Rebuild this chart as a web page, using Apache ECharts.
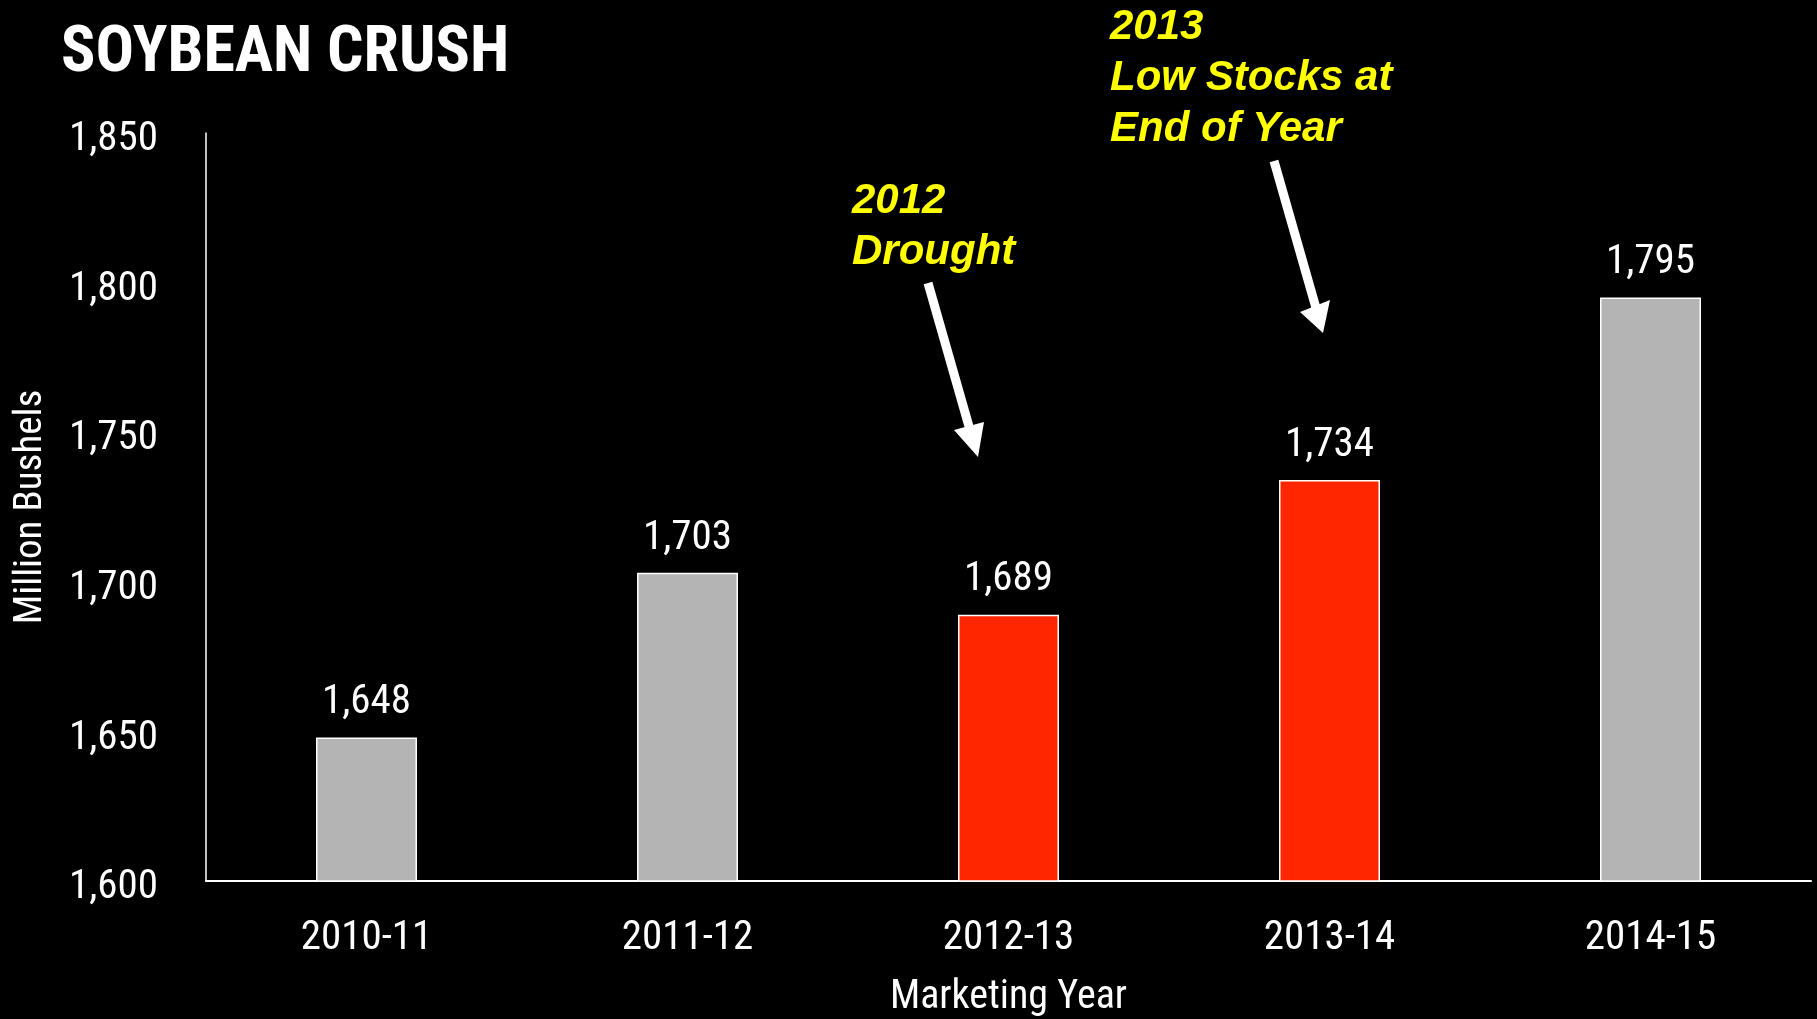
<!DOCTYPE html>
<html>
<head>
<meta charset="utf-8">
<script src="https://cdn.jsdelivr.net/npm/echarts@6/dist/echarts.min.js"></script>
<style>
html, body { margin: 0; padding: 0; background: #000; }
</style>
</head>
<body>
<div id="main" style="width: 1817px;height:1019px;"></div>

<script type="text/javascript">
// marketing years and crush volumes (million bushels)
var years = ['2010-11', '2011-12', '2012-13', '2013-14', '2014-15'];
var crush = [1648, 1703, 1689, 1734, 1795];
// years hit by the drought / low stocks
var flagged = [false, false, true, true, false];
var yTicks = [1600, 1650, 1700, 1750, 1800, 1850];

var narrow = "'Roboto Condensed', 'DejaVu Sans Condensed', sans-serif";
var bold = "'Liberation Sans', Arial, sans-serif";

function fmt(v) {
    return String(v).replace(/\B(?=(\d{3})+(?!\d))/g, ',');
}

var barData = [];
for (var i = 0; i < crush.length; i++) {
    barData.push({
        value: crush[i],
        itemStyle: { color: flagged[i] ? '#ff2600' : '#b4b4b4' }
    });
}

option = {
    backgroundColor: '#000',
    animation: false,
    title: {
        text: 'SOYBEAN CRUSH',
        left: 56,
        top: 18,
        textStyle: {
            color: '#fff',
            fontFamily: narrow,
            fontWeight: 'bold',
            fontSize: 64
        }
    },
    grid: {
        left: 206,
        right: 6,
        top: 133,
        bottom: 138,
        containLabel: false,
        outerBoundsMode: 'none'
    },
    xAxis: {
        type: 'category',
        data: years,
        name: 'Marketing Year',
        nameLocation: 'middle',
        nameGap: 97,
        nameTextStyle: { color: '#fff', fontFamily: narrow, fontSize: 40 },
        axisLine: { lineStyle: { color: '#fff', width: 2 } },
        axisTick: { show: false },
        axisLabel: { color: '#fff', fontFamily: narrow, fontSize: 41, margin: 37 }
    },
    yAxis: {
        type: 'value',
        min: yTicks[0],
        max: yTicks[yTicks.length - 1],
        interval: 50,
        name: 'Million Bushels',
        nameLocation: 'middle',
        nameGap: 155,
        nameTextStyle: { color: '#fff', fontFamily: narrow, fontSize: 39 },
        axisLine: { show: true, lineStyle: { color: '#fff', width: 1.5 } },
        axisTick: { show: false },
        splitLine: { show: false },
        axisLabel: {
            color: '#fff',
            fontFamily: narrow,
            fontSize: 41,
            margin: 48,
            verticalAlign: 'top',
            lineHeight: 14,
            formatter: function (v) { return fmt(v); }
        }
    },
    series: [{
        type: 'bar',
        data: barData,
        barWidth: 101,
        itemStyle: { borderColor: '#fff', borderWidth: 1.5 },
        label: {
            show: true,
            position: 'top',
            distance: 14,
            color: '#fff',
            fontFamily: narrow,
            fontSize: 41,
            formatter: function (p) { return fmt(p.value); }
        }
    }],
    graphic: [
        {
            type: 'text',
            left: 852,
            top: 176,
            style: {
                text: '2012\nDrought',
                fill: '#ffff00',
                font: 'italic bold 42px ' + bold,
                lineHeight: 51
            }
        },
        {
            type: 'text',
            left: 1110,
            top: 2,
            style: {
                text: '2013\nLow Stocks at\nEnd of Year',
                fill: '#ffff00',
                font: 'italic bold 42px ' + bold,
                lineHeight: 51
            }
        },
        {
            type: 'line',
            shape: { x1: 928, y1: 283, x2: 970, y2: 430 },
            style: { stroke: '#fff', lineWidth: 9 }
        },
        {
            type: 'polygon',
            shape: { points: [[954, 430], [984, 422], [978, 457]] },
            style: { fill: '#fff' }
        },
        {
            type: 'line',
            shape: { x1: 1274, y1: 161, x2: 1316, y2: 308 },
            style: { stroke: '#fff', lineWidth: 9 }
        },
        {
            type: 'polygon',
            shape: { points: [[1300, 312], [1330, 300], [1323, 333]] },
            style: { fill: '#fff' }
        }
    ]
};

var myChart = echarts.init(document.getElementById('main'));
myChart.setOption(option);
</script>
</body>
</html>
